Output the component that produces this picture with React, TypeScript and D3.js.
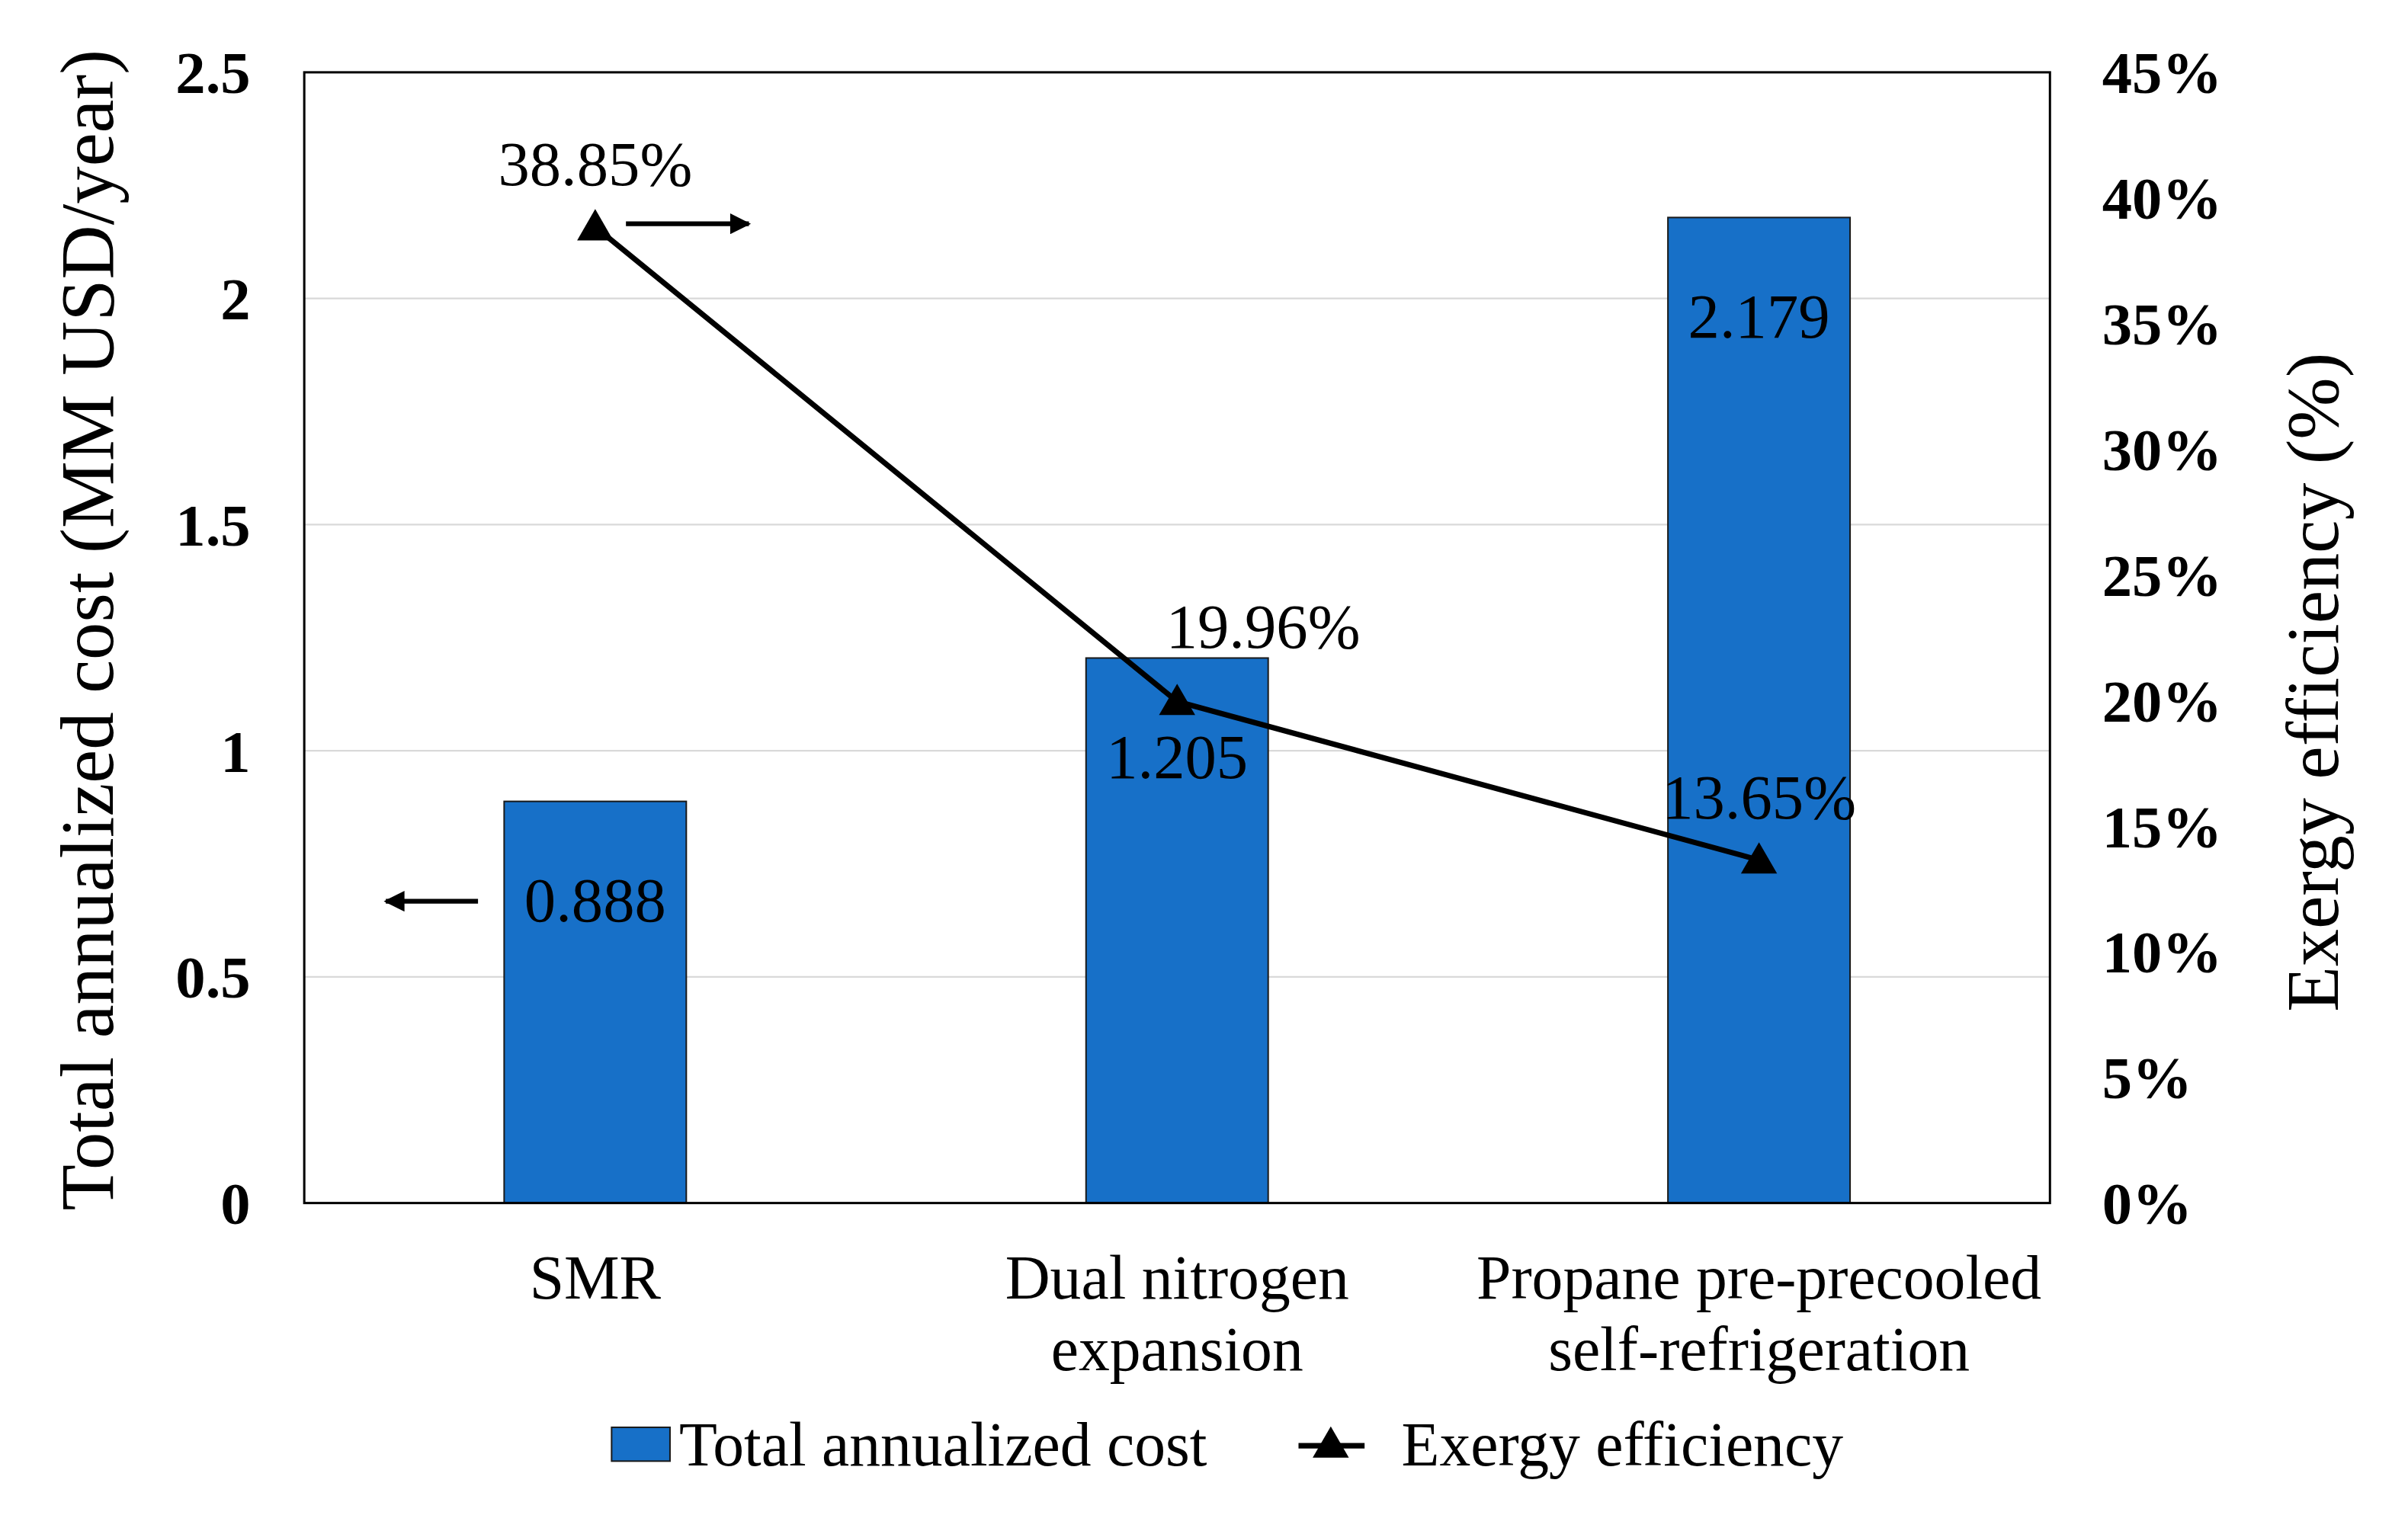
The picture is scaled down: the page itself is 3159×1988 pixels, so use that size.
import React, { useEffect } from 'react';
import * as d3 from 'd3';

// Data
const categories = [['SMR'], ['Dual nitrogen', 'expansion'], ['Propane pre-precooled', 'self-refrigeration']];
const costValues = [0.888, 1.205, 2.179];
const exergyValues = [38.85, 19.96, 13.65];
const leftTicks = [0, 0.5, 1, 1.5, 2, 2.5];
const rightTicks = [0, 5, 10, 15, 20, 25, 30, 35, 40, 45];

const W = 1567, H = 986;
const m = { left: 198, right: 1334, top: 47, bottom: 783 };
const FONT = '"Liberation Serif", "Times New Roman", serif';
const BLUE = '#1770c8';

const App = () => {
  useEffect(() => {
    document.body.style.margin = '0';
  }, []);

  const x = d3.scaleBand<number>().domain(d3.range(categories.length)).range([m.left, m.right]);
  const yL = d3.scaleLinear().domain([0, 2.5]).range([m.bottom, m.top]);
  const yR = d3.scaleLinear().domain([0, 45]).range([m.bottom, m.top]);
  const barW = x.bandwidth() * 0.313;
  const cx = (i: number) => x(i)! + x.bandwidth() / 2;

  const line = d3.line<number>().x((_, i) => cx(i)).y(d => yR(d));
  const tri = d3.symbol().type(d3.symbolTriangle).size(240)()!;

  // offsets for the line's data labels, like the original placement
  const lblOff = [[0, -27], [56, -35], [0, -27]];

  return (
    <svg width={3159} height={1988} viewBox={`0 0 ${W} ${H}`} style={{ display: 'block', background: '#fff' }} fontFamily={FONT}>
      <defs>
        <marker id="ah" viewBox="0 0 10 10" refX="9" refY="5" markerWidth="5.5" markerHeight="4.5" orient="auto-start-reverse">
          <path d="M0,0 L10,5 L0,10 z" fill="#000" />
        </marker>
      </defs>

      {/* gridlines */}
      {leftTicks.slice(1, -1).map(t => (
        <line key={t} x1={m.left} x2={m.right} y1={yL(t)} y2={yL(t)} stroke="#d9d9d9" strokeWidth={1.2} />
      ))}

      {/* bars */}
      {costValues.map((v, i) => (
        <rect key={i} x={cx(i) - barW / 2} y={yL(v)} width={barW} height={yL(0) - yL(v)}
          fill={BLUE} stroke="#1a1a1a" strokeWidth={1} />
      ))}
      {costValues.map((v, i) => (
        <text key={i} x={cx(i)} y={yL(v) + 78} textAnchor="middle" fontSize={41} fill="#000">{v.toFixed(3)}</text>
      ))}

      {/* plot border */}
      <rect x={m.left} y={m.top} width={m.right - m.left} height={m.bottom - m.top} fill="none" stroke="#000" strokeWidth={1.5} />

      {/* exergy line */}
      <path d={line(exergyValues)!} fill="none" stroke="#000" strokeWidth={3.5} />
      {exergyValues.map((v, i) => (
        <path key={i} d={tri} transform={`translate(${cx(i)},${yR(v) + 2})`} fill="#000" />
      ))}
      {exergyValues.map((v, i) => (
        <text key={i} x={cx(i) + lblOff[i][0]} y={yR(v) + lblOff[i][1]} textAnchor="middle" fontSize={41}>{v.toFixed(2)}%</text>
      ))}

      {/* axis-hint arrows */}
      <line x1={cx(0) + 20} x2={cx(0) + 100} y1={yR(exergyValues[0]) - 2} y2={yR(exergyValues[0]) - 2}
        stroke="#000" strokeWidth={3} markerEnd="url(#ah)" />
      <line x1={cx(0) - barW / 2 - 17} x2={cx(0) - barW / 2 - 77} y1={yL(costValues[0]) + 65} y2={yL(costValues[0]) + 65}
        stroke="#000" strokeWidth={3} markerEnd="url(#ah)" />

      {/* left axis */}
      {leftTicks.map(t => (
        <text key={t} x={163} y={yL(t)} dy="0.35em" textAnchor="end" fontSize={39} fontWeight="bold">{t}</text>
      ))}
      <text transform={`translate(57,${(m.top + m.bottom) / 2 - 5}) rotate(-90)`} textAnchor="middle" dominantBaseline="central" fontSize={49}>
        Total annualized cost (MM USD/year)
      </text>

      {/* right axis */}
      {rightTicks.map(t => (
        <text key={t} x={1368} y={yR(t)} dy="0.35em" textAnchor="start" fontSize={39} fontWeight="bold">{t}%</text>
      ))}
      <text transform={`translate(1505,${(m.top + m.bottom) / 2 + 29}) rotate(-90)`} textAnchor="middle" dominantBaseline="central" fontSize={48.5}>
        Exergy efficiency (%)
      </text>

      {/* category labels */}
      {categories.map((lines, i) => (
        <text key={i} x={cx(i)} y={845} textAnchor="middle" fontSize={40.5}>
          {lines.map((l, j) => (
            <tspan key={j} x={cx(i)} dy={j === 0 ? 0 : 47}>{l}</tspan>
          ))}
        </text>
      ))}

      {/* legend */}
      <rect x={398} y={929} width={38} height={22} fill={BLUE} stroke="#1a1a1a" strokeWidth={1} />
      <text x={442} y={954} fontSize={40.5}>Total annualized cost</text>
      <line x1={845} x2={888} y1={941} y2={941} stroke="#000" strokeWidth={3.5} />
      <path d={tri} transform="translate(866,942)" fill="#000" />
      <text x={912} y={954} fontSize={40.5}>Exergy efficiency</text>
    </svg>
  );
};

export default App;
